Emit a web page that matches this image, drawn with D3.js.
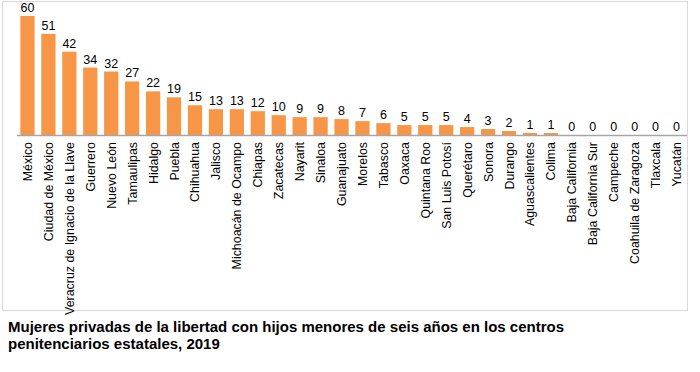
<!DOCTYPE html>
<html>
<head>
<meta charset="utf-8">
<script src="https://cdn.jsdelivr.net/npm/d3@7"></script>
<style>
  body { margin: 0; background: #fff; }
  svg { font-family: "Liberation Sans", Arial, sans-serif; }
</style>
</head>
<body>
<div id="chart"></div>
<script>
let estados = ["México", "Ciudad de México", "Veracruz de Ignacio de la Llave", "Guerrero", "Nuevo León",
  "Tamaulipas", "Hidalgo", "Puebla", "Chihuahua", "Jalisco", "Michoacán de Ocampo", "Chiapas",
  "Zacatecas", "Nayarit", "Sinaloa", "Guanajuato", "Morelos", "Tabasco", "Oaxaca", "Quintana Roo",
  "San Luis Potosí", "Querétaro", "Sonora", "Durango", "Aguascalientes", "Colima", "Baja California",
  "Baja California Sur", "Campeche", "Coahuila de Zaragoza", "Tlaxcala", "Yucatán"]
let mujeres = [60, 51, 42, 34, 32, 27, 22, 19, 15, 13, 13, 12, 10, 9, 9, 8, 7, 6, 5, 5, 5, 4, 3, 2, 1, 1, 0, 0, 0, 0, 0, 0]
let titulo = ["Mujeres privadas de la libertad con hijos menores de seis años en los centros",
  "penitenciarios estatales, 2019"]

let svg = d3.select("#chart").append("svg").attr("width", 700).attr("height", 372);

// marco
svg.append("rect").attr("x", 2.5).attr("y", 1.5).attr("width", 685).attr("height", 309)
  .attr("fill", "none").attr("stroke", "#d9d9d9").attr("stroke-width", 1);

let x = d3.scaleBand().domain(estados).range([17, 687]).paddingInner(0.32).paddingOuter(0.16);
let y = d3.scaleLinear().domain([0, 60]).range([135, 16]);

let plot = svg.append("g");
plot.selectAll("rect.bar").data(estados).join("rect").attr("class", "bar")
  .attr("x", d => x(d)).attr("width", x.bandwidth())
  .attr("y", (d, i) => y(mujeres[i])).attr("height", (d, i) => y(0) - y(mujeres[i]))
  .attr("fill", "#f79646");

plot.selectAll("text.val").data(estados).join("text").attr("class", "val")
  .attr("x", d => x(d) + x.bandwidth() / 2).attr("y", (d, i) => y(mujeres[i]) - 4)
  .attr("text-anchor", "middle").attr("font-size", 12.5).attr("fill", "#000")
  .text((d, i) => mujeres[i]);

// eje
svg.append("line").attr("x1", 17).attr("x2", 687).attr("y1", 135.5).attr("y2", 135.5)
  .attr("stroke", "#a6a6a6").attr("stroke-width", 1.5);

plot.selectAll("text.cat").data(estados).join("text").attr("class", "cat")
  .attr("transform", d => "translate(" + (x(d) + x.bandwidth() / 2 + 4.5) + ",142) rotate(-90)")
  .attr("text-anchor", "end").attr("font-size", 12.4).attr("fill", "#000")
  .text(d => d);

svg.selectAll("text.tit").data(titulo).join("text").attr("class", "tit")
  .attr("x", 8).attr("y", (d, i) => 332 + i * 16.5)
  .attr("font-size", 15).attr("font-weight", "bold").attr("fill", "#000")
  .text(d => d);
</script>
</body>
</html>
